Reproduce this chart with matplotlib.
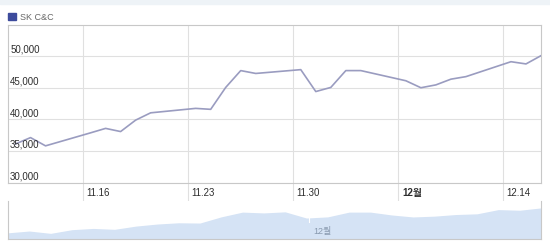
import matplotlib
matplotlib.use('Agg')
import matplotlib.pyplot as plt
import matplotlib.dates as mdates
from datetime import datetime, timedelta

plt.rcParams['font.family'] = ['Liberation Sans', 'Noto Sans CJK KR']

# daily close, SK C&C (from listing day)
dates = ['2009-11-11', '2009-11-12', '2009-11-13', '2009-11-16', '2009-11-17',
         '2009-11-18', '2009-11-19', '2009-11-20', '2009-11-23', '2009-11-24',
         '2009-11-25', '2009-11-26', '2009-11-27', '2009-11-30', '2009-12-01',
         '2009-12-02', '2009-12-03', '2009-12-04', '2009-12-07', '2009-12-08',
         '2009-12-09', '2009-12-10', '2009-12-11', '2009-12-14', '2009-12-15',
         '2009-12-16']
prices = [36150, 37150, 35850, 37900, 38600,
          38100, 39900, 41050, 41750, 41600,
          45050, 47700, 47250, 47850, 44400,
          45050, 47700, 47700, 46100, 45000,
          45450, 46350, 46750, 49100, 48750,
          50050]

tick_dates = ['2009-11-16', '2009-11-23', '2009-11-30', '2009-12-07', '2009-12-14']
tick_labels = ['11.16', '11.23', '11.30', '12월', '12.14']
y_ticks = [30000, 35000, 40000, 45000, 50000]

line_color = '#9a9cc0'
grid_color = '#e0e0e0'
border_color = '#c8c8c8'
text_color = '#2e2e2e'

# points sit at noon of each trading day
x = [mdates.date2num(datetime.strptime(d, '%Y-%m-%d') + timedelta(hours=12)) for d in dates]
xt = [mdates.date2num(datetime.strptime(d, '%Y-%m-%d')) for d in tick_dates]

fig = plt.figure(figsize=(5.5, 2.42), dpi=100)
fig.patch.set_facecolor('white')

# thin strip across the top
fig.patches.append(plt.Rectangle((0, 0.983), 1, 0.017, transform=fig.transFigure,
                                 color='#eef3f7', zorder=0))

# legend square + name
fig.patches.append(plt.Rectangle((8 / 550, 1 - 20 / 242), 8 / 550, 7 / 242,
                                 transform=fig.transFigure, color='#3d4b9c'))
fig.text(20 / 550, 1 - 17 / 242, 'SK C&C', fontsize=6.5, color='#666666', va='center')

# main chart
ax = fig.add_axes([8 / 550, 59 / 242, 533 / 550, 158 / 242])
ax.plot(x, prices, color=line_color, lw=1.2, zorder=3)
ax.set_xlim(mdates.date2num(datetime(2009, 11, 11)), mdates.date2num(datetime(2009, 12, 16, 12)))
ax.set_ylim(30000, 54880)

ax.set_xticks(xt)
ax.set_yticks(y_ticks)
ax.set_xticklabels([])
ax.set_yticklabels([])
ax.tick_params(axis='x', length=16, color=grid_color, width=0.8, direction='out')
ax.tick_params(axis='y', length=0)
ax.grid(True, color=grid_color, lw=0.8, zorder=0)
for s in ax.spines.values():
    s.set_color(border_color)
    s.set_linewidth(0.8)

for v in y_ticks:
    ax.annotate(f'{v:,}', xy=(0, v), xycoords=('axes fraction', 'data'),
                xytext=(1.5, 1), textcoords='offset points',
                fontsize=7, color=text_color, va='bottom', ha='left', zorder=4)

for t, lab in zip(xt, tick_labels):
    bold = lab == '12월'
    ax.annotate(lab, xy=(t, 0), xycoords=('data', 'axes fraction'),
                xytext=(3.0 if bold else 2.2, -7), textcoords='offset points',
                fontsize=7, color=text_color, va='center', ha='left',
                fontweight='bold' if bold else 'normal', annotation_clip=False)

# navigator below, evenly spaced by trading day
nav = fig.add_axes([8 / 550, 3 / 242, 533 / 550, 38 / 242])
idx = list(range(len(prices)))
nav.fill_between(idx, prices, 32700, color='#d5e3f5', lw=0)
nav.set_xlim(0, len(prices) - 1)
nav.set_ylim(32700, 53900)
nav.set_xticks([])
nav.set_yticks([])
nav.spines['top'].set_visible(False)
for s in ['left', 'right', 'bottom']:
    nav.spines[s].set_color(border_color)
    nav.spines[s].set_linewidth(0.8)
nav.axvline(14.1, ymin=0.45, ymax=0.9, color='white', lw=0.8)
nav.text(14.3, 34400, '12월', fontsize=6.5, color='#8a9bb0', ha='left', va='bottom')

fig.savefig('out.png', dpi=100)
